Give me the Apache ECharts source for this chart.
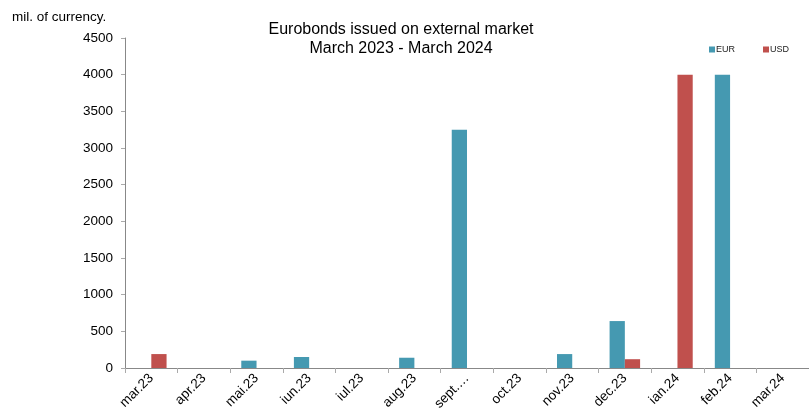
<!DOCTYPE html>
<html>
<head>
<meta charset="utf-8">
<script src="https://cdn.jsdelivr.net/npm/echarts@6/dist/echarts.min.js"></script>
<style>html,body{margin:0;padding:0;background:#fff}#c{width:809px;height:417px}</style>
</head>
<body>
<div id="c"></div>
<script>
var categories = ["mar.23","apr.23","mai.23","iun.23","iul.23","aug.23","sept.…","oct.23","nov.23","dec.23","ian.24","feb.24","mar.24"];
var eurValues = [0, 0, 100, 150, 0, 140, 3250, 0, 190, 640, 0, 4000, 0];
var usdValues = [190, 0, 0, 0, 0, 0, 0, 0, 0, 120, 4000, 0, 0];
var yTicks = [0, 500, 1000, 1500, 2000, 2500, 3000, 3500, 4000, 4500];

var chart = echarts.init(document.getElementById('c'));
var font = 'Liberation Sans, Arial, sans-serif';
chart.setOption({
  animation: false,
  textStyle: {fontFamily: font},
  title: {
    text: 'Eurobonds issued on external market\nMarch 2023 - March 2024',
    left: 396, top: 15, textAlign: 'center',
    textStyle: {fontSize: 16, fontWeight: 'normal', color: '#000', lineHeight: 19, fontFamily: font}
  },
  legend: {
    right: 15, top: 40, itemWidth: 6, itemHeight: 6, itemGap: 28,
    icon: 'rect',
    itemStyle: {borderWidth: 0},
    textStyle: {fontSize: 9, color: '#222', padding: [0,0,0,-4]},
    data: ['EUR', 'USD']
  },
  graphic: [{type: 'text', left: 12, top: 10, style: {text: 'mil. of currency.', fontSize: 13.5, fill: '#000', fontFamily: font}}],
  grid: {left: 125, right: -6, top: 38, bottom: 49, containLabel: false},
  xAxis: {
    type: 'category', data: categories,
    axisLine: {lineStyle: {color: '#888'}},
    axisTick: {show: true, length: 5, lineStyle: {color: '#aaa'}},
    axisLabel: {rotate: 45, fontSize: 13.5, color: '#000', interval: 0, margin: 8, fontFamily: font}
  },
  yAxis: {
    type: 'value', min: yTicks[0], max: yTicks[yTicks.length-1], interval: 500,
    axisLine: {show: true, lineStyle: {color: '#888'}},
    axisTick: {show: true, inside: false, length: 4, lineStyle: {color: '#aaa'}},
    splitLine: {show: false},
    axisLabel: {fontSize: 13.5, color: '#000', margin: 12, fontFamily: font, formatter: function (v) { return String(v); }}
  },
  series: [
    {name: 'EUR', type: 'bar', data: eurValues, barGap: '0%', barCategoryGap: '42%',
     itemStyle: {color: '#4599B1', borderWidth: 0}},
    {name: 'USD', type: 'bar', data: usdValues,
     itemStyle: {color: '#C0504D', borderWidth: 0}}
  ]
});
</script>
</body>
</html>
